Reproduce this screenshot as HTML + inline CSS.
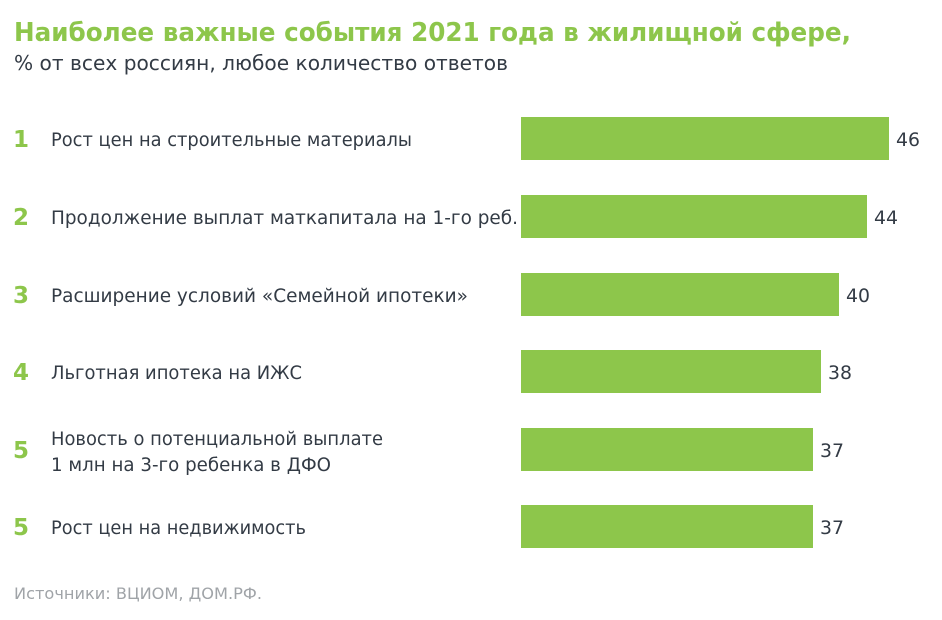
<!DOCTYPE html>
<html><head><meta charset="utf-8"><style>
html,body{margin:0;padding:0;background:#fff;}
svg{display:block;font-family:"DejaVu Sans","Liberation Sans",sans-serif;}
</style></head><body>
<svg width="942" height="620" viewBox="0 0 942 620" xmlns="http://www.w3.org/2000/svg">
<text x="14" y="41" font-size="26" font-weight="bold" fill="#8dc64b" textLength="837" lengthAdjust="spacingAndGlyphs">Наиболее важные события 2021 года в жилищной сфере,</text>
<text x="14" y="70" font-size="20" fill="#333b45" textLength="494" lengthAdjust="spacingAndGlyphs">% от всех россиян, любое количество ответов</text>
<g fill="#8dc64b">
<rect x="521" y="117" width="368" height="43"/>
<rect x="521" y="195" width="346" height="43"/>
<rect x="521" y="273" width="318" height="43"/>
<rect x="521" y="350" width="300" height="43"/>
<rect x="521" y="428" width="292" height="43"/>
<rect x="521" y="505" width="292" height="43"/>
</g>
<g font-size="23" font-weight="bold" fill="#8dc64b">
<text x="13" y="147">1</text>
<text x="13" y="225">2</text>
<text x="13" y="303">3</text>
<text x="13" y="380">4</text>
<text x="13" y="458">5</text>
<text x="13" y="535">5</text>
</g>
<g font-size="19" fill="#333b45">
<text x="51" y="146" textLength="361" lengthAdjust="spacingAndGlyphs">Рост цен на строительные материалы</text>
<text x="51" y="224" textLength="467" lengthAdjust="spacingAndGlyphs">Продолжение выплат маткапитала на 1-го реб.</text>
<text x="51" y="302" textLength="417" lengthAdjust="spacingAndGlyphs">Расширение условий «Семейной ипотеки»</text>
<text x="51" y="379" textLength="251" lengthAdjust="spacingAndGlyphs">Льготная ипотека на ИЖС</text>
<text x="51" y="445" textLength="332" lengthAdjust="spacingAndGlyphs">Новость о потенциальной выплате</text>
<text x="51" y="471" textLength="280" lengthAdjust="spacingAndGlyphs">1 млн на 3-го ребенка в ДФО</text>
<text x="51" y="534" textLength="255" lengthAdjust="spacingAndGlyphs">Рост цен на недвижимость</text>
<text x="896" y="146" textLength="24" lengthAdjust="spacingAndGlyphs">46</text>
<text x="874" y="224" textLength="24" lengthAdjust="spacingAndGlyphs">44</text>
<text x="846" y="302" textLength="24" lengthAdjust="spacingAndGlyphs">40</text>
<text x="828" y="379" textLength="24" lengthAdjust="spacingAndGlyphs">38</text>
<text x="820" y="457" textLength="24" lengthAdjust="spacingAndGlyphs">37</text>
<text x="820" y="534" textLength="24" lengthAdjust="spacingAndGlyphs">37</text>
</g>
<text x="14" y="599" font-size="16" fill="#a0a4a8" textLength="248" lengthAdjust="spacingAndGlyphs">Источники: ВЦИОМ, ДОМ.РФ.</text>
</svg>
</body></html>
